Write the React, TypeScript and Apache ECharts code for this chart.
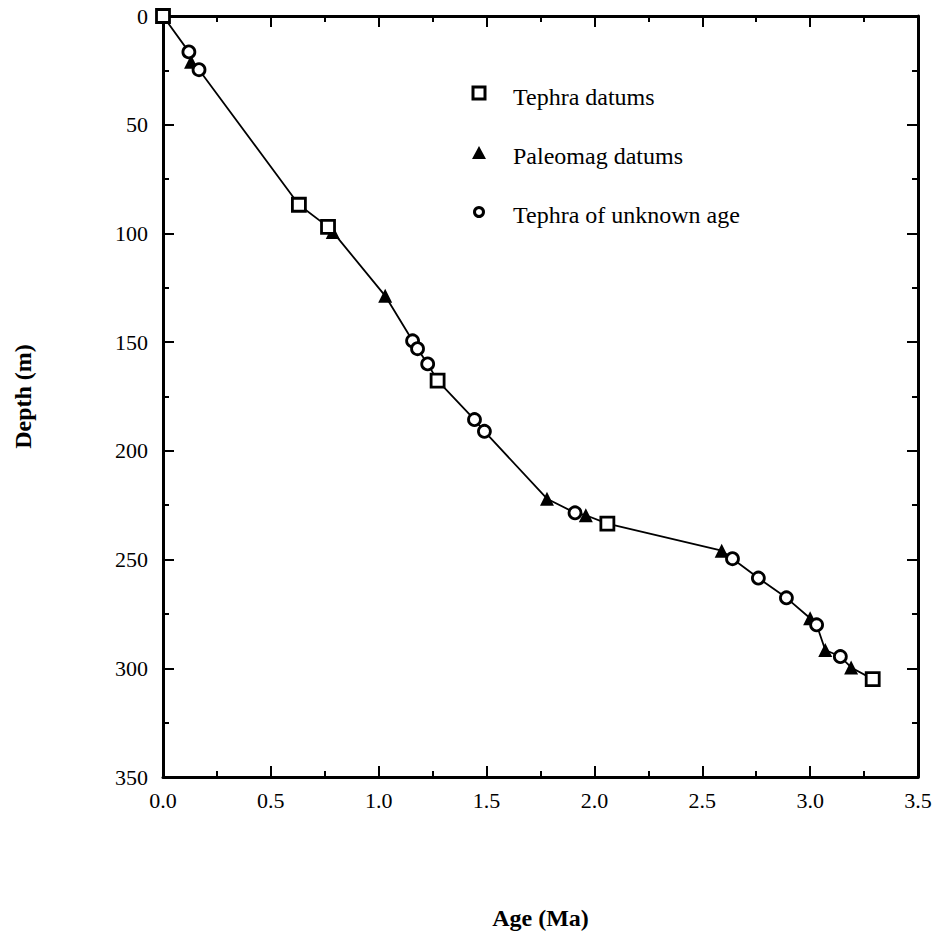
import React, { useEffect, useRef } from "react";
import * as echarts from "echarts";

// Age (Ma) / Depth (m) readings
const tephraAges = [0, 0.63, 0.765, 1.273, 2.06, 3.29];
const tephraDepths = [0, 86.8, 97, 167.7, 233.5, 305];

const paleomagAges = [0.13, 0.787, 1.03, 1.78, 1.96, 2.59, 3.0, 3.07, 3.19];
const paleomagDepths = [21, 99.3, 128.7, 222, 229.6, 245.9, 277, 291.6, 299.6];

const unknownAges = [0.12, 0.167, 1.157, 1.18, 1.227, 1.444, 1.49, 1.91, 2.64, 2.76, 2.89, 3.03, 3.14];
const unknownDepths = [16.5, 24.7, 149.4, 153, 160, 185.6, 191, 228.5, 249.6, 258.5, 267.6, 280, 294.6];

const seriesNames = ["Tephra datums", "Paleomag datums", "Tephra of unknown age"];
const xAxisTitle = "Age (Ma)";
const yAxisTitle = "Depth (m)";

const FONT = "'Liberation Serif', 'Times New Roman', serif";

function pairs(xs: number[], ys: number[]): number[][] {
  return xs.map((x, i) => [x, ys[i]]);
}

export default function App() {
  const ref = useRef<HTMLDivElement>(null);

  useEffect(() => {
    document.body.style.margin = "0";
    if (!ref.current) return;
    const chart = echarts.init(ref.current, null, { renderer: "svg" });

    const tephra = pairs(tephraAges, tephraDepths);
    const paleomag = pairs(paleomagAges, paleomagDepths);
    const unknown = pairs(unknownAges, unknownDepths);
    const all = [...tephra, ...paleomag, ...unknown].sort((a, b) => a[0] - b[0]);

    const axisLine = { show: true, onZero: false, lineStyle: { color: "#000", width: 3 } };
    const tick = { show: true, inside: true, length: 11, lineStyle: { color: "#000", width: 2 } };
    const minor = { show: true, splitNumber: 2, length: 6, lineStyle: { color: "#000", width: 2 } };
    const xCommon = {
      type: "value" as const,
      min: 0,
      max: 3.5,
      interval: 0.5,
      splitLine: { show: false },
      axisLine,
      axisTick: tick,
      minorTick: minor,
    };
    const yCommon = {
      type: "value" as const,
      min: 0,
      max: 350,
      interval: 50,
      inverse: true,
      splitLine: { show: false },
      axisLine,
      axisTick: tick,
      minorTick: minor,
    };

    chart.setOption({
      animation: false,
      backgroundColor: "#fff",
      grid: { left: 163, top: 16, width: 755, height: 766, containLabel: false },
      xAxis: [
        {
          ...xCommon,
          position: "bottom",
          name: xAxisTitle,
          nameLocation: "middle",
          nameGap: 129,
          nameTextStyle: { fontFamily: FONT, fontSize: 24, fontWeight: "bold", color: "#000" },
          axisLabel: {
            show: true,
            margin: 12,
            fontFamily: FONT,
            fontSize: 22,
            color: "#000",
            formatter: (v: number) => v.toFixed(1),
          },
        },
        { ...xCommon, position: "top", axisLabel: { show: false } },
      ],
      yAxis: [
        {
          ...yCommon,
          position: "left",
          name: yAxisTitle,
          nameLocation: "middle",
          nameGap: 128,
          nameRotate: 90,
          nameTextStyle: { fontFamily: FONT, fontSize: 24, fontWeight: "bold", color: "#000" },
          axisLabel: { show: true, margin: 15, fontFamily: FONT, fontSize: 22, color: "#000" },
        },
        { ...yCommon, position: "right", axisLabel: { show: false } },
      ],
      series: [
        {
          type: "line",
          data: all,
          showSymbol: false,
          symbol: "none",
          lineStyle: { color: "#000", width: 1.8 },
          z: 1,
          silent: true,
        },
        {
          name: seriesNames[0],
          type: "scatter",
          data: tephra,
          symbol: "rect",
          symbolSize: 13,
          itemStyle: { color: "#fff", borderColor: "#000", borderWidth: 2.8, opacity: 1 },
          z: 3,
        },
        {
          name: seriesNames[1],
          type: "scatter",
          data: paleomag,
          symbol: "triangle",
          symbolSize: 14,
          itemStyle: { color: "#000", opacity: 1 },
          z: 2,
        },
        {
          name: seriesNames[2],
          type: "scatter",
          data: unknown,
          symbol: "circle",
          symbolSize: 12,
          itemStyle: { color: "#fff", borderColor: "#000", borderWidth: 2.8, opacity: 1 },
          z: 4,
        },
      ],
      graphic: [
        {
          type: "rect",
          shape: { x: 473, y: 87, width: 12, height: 12 },
          style: { fill: "#fff", stroke: "#000", lineWidth: 3 },
        },
        {
          type: "text",
          x: 513,
          y: 97,
          style: { text: seriesNames[0], font: `24px ${FONT}`, fill: "#000", verticalAlign: "middle" },
        },
        {
          type: "polygon",
          shape: { points: [[479, 146], [486, 159], [472, 159]] },
          style: { fill: "#000" },
        },
        {
          type: "text",
          x: 513,
          y: 156,
          style: { text: seriesNames[1], font: `24px ${FONT}`, fill: "#000", verticalAlign: "middle" },
        },
        {
          type: "circle",
          shape: { cx: 479, cy: 212, r: 4.5 },
          style: { fill: "#fff", stroke: "#000", lineWidth: 3 },
        },
        {
          type: "text",
          x: 513,
          y: 215,
          style: { text: seriesNames[2], font: `24px ${FONT}`, fill: "#000", verticalAlign: "middle" },
        },
      ],
    });

    return () => chart.dispose();
  }, []);

  return <div ref={ref} style={{ width: 947, height: 935 }} />;
}
